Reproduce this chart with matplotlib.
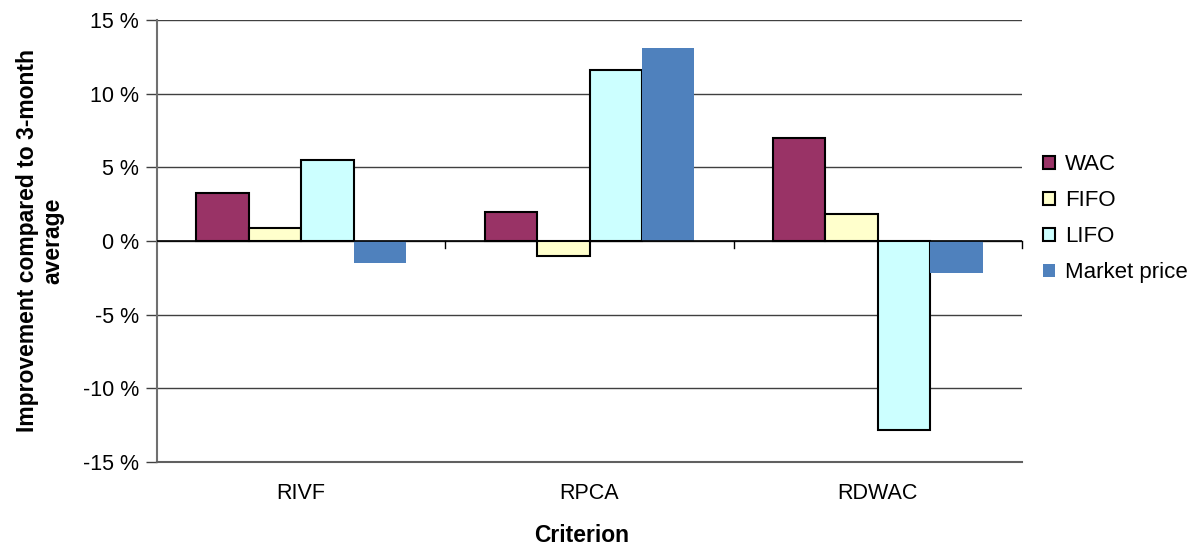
import matplotlib
matplotlib.use("Agg")
import matplotlib.pyplot as plt
import numpy as np

categories = ["RIVF", "RPCA", "RDWAC"]
series = ["WAC", "FIFO", "LIFO", "Market price"]
wac = [3.25, 2.0, 7.0]
fifo = [0.85, -1.0, 1.8]
lifo = [5.5, 11.6, -12.8]
market = [-1.5, 13.1, -2.2]
yticks = [-15, -10, -5, 0, 5, 10, 15]
ytick_labels = ["-15 %", "-10 %", "-5 %", "0 %", "5 %", "10 %", "15 %"]

colors = ["#993366", "#FFFFCC", "#CCFFFF", "#4F81BD"]
edges = ["black", "black", "black", "none"]

plt.rcParams['font.family'] = ['Liberation Sans', 'DejaVu Sans']
fig = plt.figure(figsize=(11.97, 5.46), dpi=100)
ax = fig.add_axes([157/1197, 1 - 462/546, (1022-157)/1197, (462-20)/546])

x = np.arange(len(categories))
w = 1/5.5
data = [wac, fifo, lifo, market]
for i, (s, vals) in enumerate(zip(series, data)):
    ax.bar(x + (i - 1.5) * w, vals, width=w, color=colors[i],
           edgecolor=edges[i], linewidth=1.5 if edges[i] != "none" else 0,
           label=s, zorder=3)

ax.set_xlim(-0.5, 2.5)
ax.set_ylim(-15, 15)
ax.set_yticks(yticks)
ax.set_yticklabels(ytick_labels, fontsize=15.5)
ax.set_xticks(x)
ax.set_xticklabels(categories, fontsize=15.5)
ax.tick_params(axis='x', length=0, pad=15)
ax.tick_params(axis='y', length=8, width=1, color='#404040', pad=5)
ax.grid(axis='y', color='#404040', linewidth=1, zorder=0)
for sp in ['top', 'right', 'bottom']:
    ax.spines[sp].set_visible(False)
ax.spines['left'].set_color('#707070')
ax.spines['left'].set_linewidth(1.5)
ax.axhline(-15, color='#606060', linewidth=1.5, zorder=4, clip_on=False)
ax.axhline(0, color='black', linewidth=1.2, zorder=4)
for b in [0.5, 1.5, 2.5]:
    ax.plot([b, b], [0, -0.45], color='black', linewidth=1, zorder=4, clip_on=False)

fig.text(582/1197, 1 - 535/546, "Criterion", fontsize=16.5, fontweight='bold',
         ha='center', va='center')
fig.text(40/1197, 1 - 241/546, "Improvement compared to 3-month\naverage", fontsize=16.5,
         fontweight='bold', rotation=90, ha='center', va='center',
         multialignment='center', linespacing=1.15)

ax.legend(loc='upper left', bbox_to_anchor=(1032/1197, 1 - 143/546),
          bbox_transform=fig.transFigure, frameon=False, fontsize=16,
          handlelength=0.55, handleheight=0.55, handletextpad=0.45,
          labelspacing=0.68, borderpad=0)

fig.savefig("out.png", dpi=100)
